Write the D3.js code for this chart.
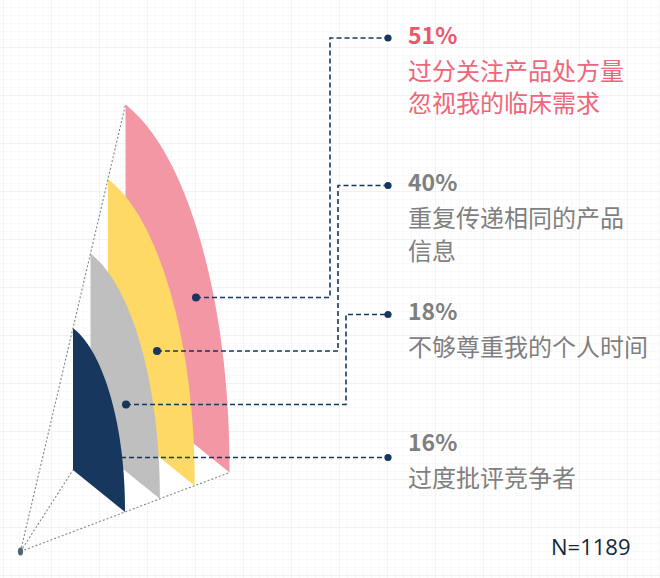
<!DOCTYPE html>
<html>
<head>
<meta charset="utf-8">
<script src="https://cdn.jsdelivr.net/npm/d3@7"></script>
<style>
  html, body { margin: 0; padding: 0; background: #fff; }
  svg { display: block; }
</style>
</head>
<body>
<svg id="chart" width="660" height="578"></svg>
<script>
// ---- data ----
const categories = ["过度批评竞争者", "不够尊重我的个人时间", "重复传递相同的产品信息", "过分关注产品处方量忽视我的临床需求"];
const labelLines = [["过度批评竞争者"], ["不够尊重我的个人时间"], ["重复传递相同的产品", "信息"], ["过分关注产品处方量", "忽视我的临床需求"]];
const values = [16, 18, 40, 51];
const sampleNote = "N=1189";
const fillColors = ["#17375e", "#bfbfbf", "#ffd966", "#f397a5"];
const pctColors = ["#7f7f7f", "#7f7f7f", "#7f7f7f", "#e9576b"];
const textColors = ["#7f7f7f", "#7f7f7f", "#7f7f7f", "#ee6679"];

// ---- layout ----
const W = 660, H = 578;
const svg = d3.select("#chart");
const apex = [20.5, 551.5];
const baseBL = [52.5, -81.5], baseTop = [52.5, -223.5], baseBR = [104.5, -39.5];
const depth = d3.scaleLinear().domain([0, categories.length - 1]).range([1, 2]);

// background grid
const grid = svg.append("g");
grid.selectAll("line.vmin").data(d3.range(3, W, 8)).join("line")
  .attr("x1", d => d + 0.5).attr("x2", d => d + 0.5).attr("y1", 0).attr("y2", H)
  .attr("stroke", "#f8f8f8").attr("stroke-width", 1);
grid.selectAll("line.hmin").data(d3.range(7, H, 8)).join("line")
  .attr("y1", d => d + 0.5).attr("y2", d => d + 0.5).attr("x1", 0).attr("x2", W)
  .attr("stroke", "#f9f9f9").attr("stroke-width", 1);
grid.selectAll("line.hmaj").data(d3.range(47, H, 48)).join("line")
  .attr("y1", d => d + 0.5).attr("y2", d => d + 0.5).attr("x1", 0).attr("x2", W)
  .attr("stroke", "#f1f1f1").attr("stroke-width", 1);
grid.selectAll("line.vmaj").data(d3.range(3, W, 48)).join("line")
  .attr("x1", d => d + 0.5).attr("x2", d => d + 0.5).attr("y1", 0).attr("y2", H)
  .attr("stroke", "#f3f3f3").attr("stroke-width", 1);

function pt(k, v) { return [apex[0] + k * v[0], apex[1] + k * v[1]]; }
const kMax = depth(categories.length - 1);

// floors between consecutive sails
const floorG = svg.append("g");
d3.range(1, categories.length).forEach(i => {
  const k0 = depth(i - 1), k1 = depth(i);
  floorG.append("path")
    .attr("d", d3.line()([pt(k0, baseBL), pt(k1, baseBL), pt(k1, baseBR), pt(k0, baseBR)]) + "Z")
    .attr("fill", "#ffffff");
});

// shapes (back to front)
const shapeG = svg.append("g");
const idx = d3.range(categories.length).reverse();
const bulge = 0.92;
idx.forEach(i => {
  const k = depth(i);
  const T = pt(k, baseTop), BL = pt(k, baseBL), BR = pt(k, baseBR);
  const u = [BR[0] - BL[0], BR[1] - BL[1]], v = [T[0] - BL[0], T[1] - BL[1]];
  const arc = d3.range(0, 81).map(j => {
    const th = (j / 80) * Math.PI / 2;
    const c = Math.pow(Math.cos(th), bulge), s = Math.pow(Math.sin(th), bulge);
    return [BL[0] + c * u[0] + s * v[0], BL[1] + c * u[1] + s * v[1]];
  });
  const pts = [T, BL].concat(arc);
  shapeG.append("path")
    .attr("d", d3.line()(pts) + "Z")
    .attr("fill", fillColors[i]);
});

// perspective dotted lines
const dotted = svg.append("g").attr("stroke", "#7a8791").attr("stroke-width", 1.1)
  .attr("stroke-dasharray", "2,2").attr("fill", "none");
[pt(kMax, baseTop), pt(1, baseBL), pt(kMax, baseBR)].forEach(p => {
  dotted.append("line").attr("x1", apex[0]).attr("y1", apex[1]).attr("x2", p[0]).attr("y2", p[1]);
});
svg.append("ellipse").attr("cx", apex[0]).attr("cy", apex[1]).attr("rx", 2.6).attr("ry", 4)
  .attr("fill", "#4f6573");

// leaders
const startY = [457.5, 404.5, 351, 297.5];
const startX = [97, 126, 157, 196];
const elbowX = [null, 346, 338, 330];
const pctBaseline = [451, 320, 191, 43.5];
const endX = 388;
const leadG = svg.append("g");
categories.forEach((c, i) => {
  const endY = pctBaseline[i] - 6.5 + (i === 0 ? 0 : 1);
  const ey = i === 0 ? startY[0] : endY;
  let pts;
  if (elbowX[i] === null) pts = [[startX[i], startY[i]], [endX, ey]];
  else pts = [[startX[i], startY[i]], [elbowX[i], startY[i]], [elbowX[i], ey], [endX, ey]];
  leadG.append("path").attr("d", d3.line()(pts)).attr("fill", "none")
    .attr("stroke", "#17375e").attr("stroke-width", 1.6).attr("stroke-dasharray", "5,3");
  leadG.append("circle").attr("cx", startX[i]).attr("cy", startY[i]).attr("r", 4).attr("fill", "#17375e");
  leadG.append("circle").attr("cx", endX).attr("cy", ey).attr("r", 3.6).attr("fill", "#17375e");
});

// labels
const textX = 408;
const fontFam = "'Noto Sans CJK SC', 'Noto Sans', sans-serif";
categories.forEach((c, i) => {
  svg.append("text").attr("x", textX).attr("y", pctBaseline[i])
    .attr("font-family", fontFam).attr("font-weight", 700).attr("font-size", 23)
    .attr("fill", pctColors[i]).text(values[i] + "%");
  labelLines[i].forEach((line, j) => {
    svg.append("text").attr("x", textX).attr("y", pctBaseline[i] + 36 + j * 32.5)
      .attr("font-family", fontFam).attr("font-size", 24)
      .attr("fill", textColors[i]).text(line);
  });
});

svg.append("text").attr("x", 551).attr("y", 555)
  .attr("font-family", "'Open Sans', 'Noto Sans', sans-serif").attr("font-size", 22)
  .attr("fill", "#14263b").text(sampleNote);
</script>
</body>
</html>
